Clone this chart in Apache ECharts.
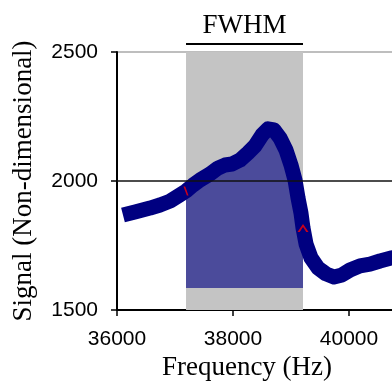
<!DOCTYPE html>
<html>
<head>
<meta charset="utf-8">
<script src="https://cdn.jsdelivr.net/npm/echarts@6/dist/echarts.min.js"></script>
<style>
  html, body { margin: 0; padding: 0; background: #fff; }
  #chart { width: 392px; height: 388px; }
</style>
</head>
<body>
<div id="chart"></div>
<script>
// measured trace of the resonance curve
const freqHz = [36103, 36310, 36569, 36741, 36914, 37086, 37190, 37310, 37431, 37603,
  37741, 37862, 37983, 38121, 38259, 38379, 38500, 38603, 38707, 38810,
  38914, 39000, 39069, 39121, 39172, 39207, 39259, 39345, 39466, 39603,
  39741, 39879, 40017, 40190, 40362, 40534, 40741, 40800];
const signal = [1868, 1880, 1895, 1907, 1922, 1946, 1961, 1984, 2004, 2027,
  2050, 2062, 2066, 2081, 2109, 2136, 2178, 2202, 2198, 2167,
  2120, 2062, 2004, 1934, 1876, 1818, 1756, 1702, 1663, 1640,
  1628, 1636, 1655, 1671, 1678, 1690, 1702, 1705];

// half-maximum crossings (red marks) and FWHM band
const halfFreq = [37190, 39207];
const halfSignal = [1961, 1818];
const fwhm = [37190, 39207];
const fillBase = 1585;
const refLine = 2000;

const xMin = 36000, xMax = 42000, xStep = 2000;
const yMin = 1500, yMax = 2500, yStep = 500;

const curve = freqHz.map((f, i) => [f, signal[i]]);
const band = curve.filter(p => p[0] >= fwhm[0] && p[0] <= fwhm[1]);

var myChart = echarts.init(document.getElementById('chart'));

const serif = 'Liberation Serif';
const sans = 'Liberation Sans';
const plain = v => String(v);

myChart.setOption({
  animation: false,
  grid: { left: 117, top: 52, bottom: 78, right: -73, outerBoundsMode: 'none', containLabel: false },
  xAxis: {
    type: 'value',
    min: xMin, max: xMax, interval: xStep,
    name: 'Frequency (Hz)',
    nameLocation: 'middle',
    nameGap: 44,
    // the plot runs past the right edge, so pull the title back to the visible middle
    nameTextStyle: { fontFamily: serif, fontSize: 27, color: '#000', padding: [0, 88, 0, 0] },
    axisLine: { lineStyle: { color: '#000', width: 2 } },
    axisTick: { length: 6, lineStyle: { color: '#000', width: 1.5 } },
    axisLabel: { fontFamily: sans, fontSize: 21, color: '#000', margin: 19, formatter: plain },
    splitLine: { show: false }
  },
  yAxis: {
    type: 'value',
    min: yMin, max: yMax, interval: yStep,
    name: 'Signal (Non-dimensional)',
    nameLocation: 'middle',
    nameGap: 80,
    nameTextStyle: { fontFamily: serif, fontSize: 27, color: '#000' },
    axisLine: { show: true, lineStyle: { color: '#000', width: 2 } },
    axisTick: { show: true, length: 6, lineStyle: { color: '#000', width: 1.5 } },
    axisLabel: { fontFamily: sans, fontSize: 21, color: '#000', margin: 19, formatter: plain },
    splitLine: { show: true, lineStyle: { color: ['transparent', 'transparent', '#a8a8a8'], width: 1.5 } }
  },
  series: [
    {
      type: 'line',
      z: 2,
      data: band,
      symbol: 'none',
      lineStyle: { width: 0 },
      areaStyle: { color: '#4b4b9b', opacity: 1, origin: fillBase },
      markArea: {
        silent: true,
        itemStyle: { color: '#c4c4c4', opacity: 1 },
        data: [[{ xAxis: fwhm[0], yAxis: yMin }, { xAxis: fwhm[1], yAxis: yMax }]]
      }
    },
    {
      type: 'line',
      z: 3,
      data: curve,
      symbol: 'none',
      lineStyle: { color: '#000080', width: 15, cap: 'butt', join: 'round' },
      markLine: {
        silent: true,
        symbol: 'none',
        label: { show: false },
        lineStyle: { color: '#111', width: 1.5, type: 'solid' },
        data: [{ yAxis: refLine }]
      }
    },
    {
      type: 'scatter',
      z: 6,
      data: [
        { value: [halfFreq[0], halfSignal[0]], symbol: 'path://M0,0 L2,0 L6,8 L4,8 Z', symbolSize: [5, 9] },
        { value: [halfFreq[1], halfSignal[1]], symbol: 'path://M0,8 L5,0 L10,8 L8,8 L5,3 L2,8 Z', symbolSize: [11, 8] }
      ],
      itemStyle: { color: '#ff0000' }
    }
  ]
});

// FWHM label and bracket line above the band
const pa = myChart.convertToPixel({ gridIndex: 0 }, [fwhm[0], yMax]);
const pb = myChart.convertToPixel({ gridIndex: 0 }, [fwhm[1], yMax]);
const lineY = pa[1] - 8;
myChart.setOption({
  graphic: [
    {
      type: 'line',
      shape: { x1: pa[0], y1: lineY, x2: pb[0], y2: lineY },
      style: { stroke: '#000', lineWidth: 2 }
    },
    {
      type: 'text',
      x: (pa[0] + pb[0]) / 2,
      y: lineY - 5,
      style: {
        text: 'FWHM', fill: '#000',
        font: '27px "Liberation Serif"',
        align: 'center', verticalAlign: 'bottom'
      }
    }
  ]
});

window.addEventListener('resize', () => myChart.resize());
</script>
</body>
</html>
